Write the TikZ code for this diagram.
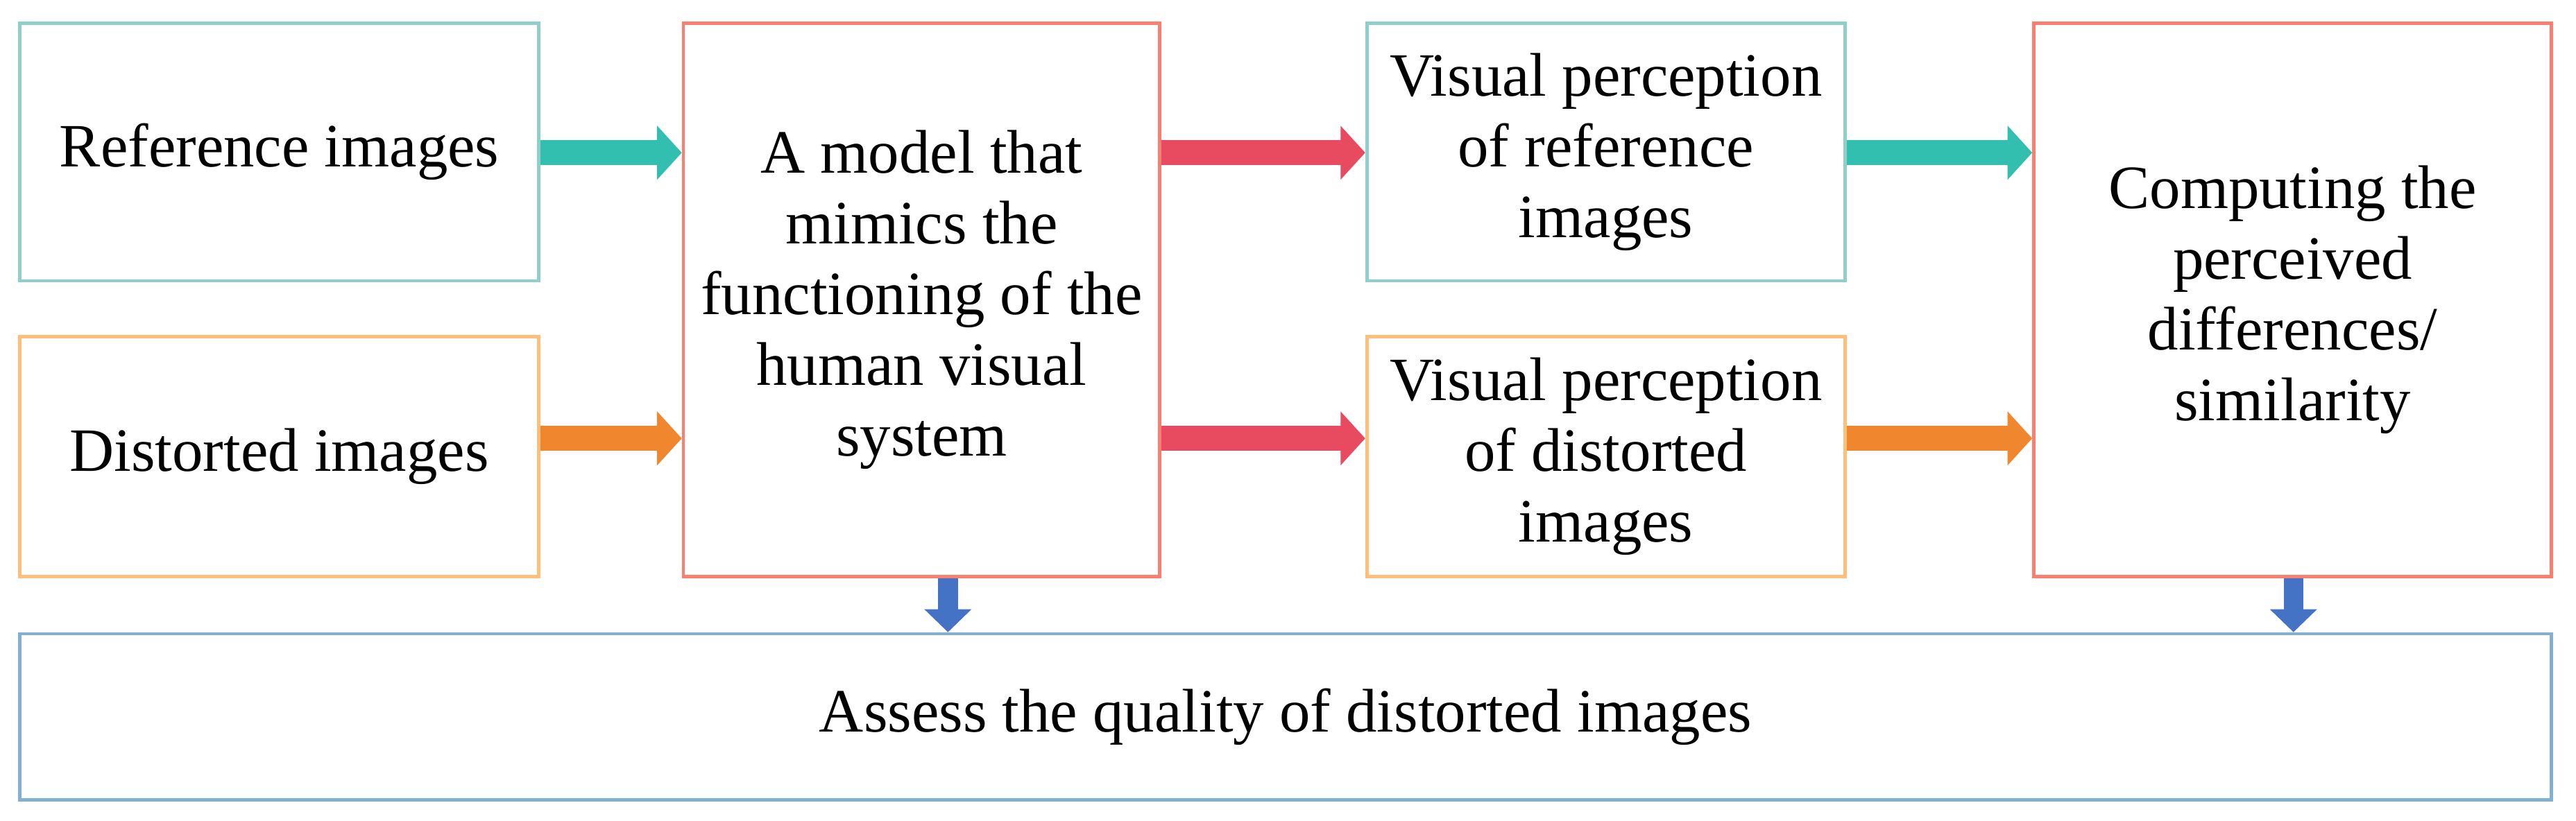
\documentclass[tikz,border=0pt]{standalone}
\usepackage{fontspec}
\setmainfont{Liberation Serif}
\usetikzlibrary{arrows.meta}
\definecolor{tealbox}{HTML}{8ECFC9}
\definecolor{orangebox}{HTML}{FFBE7A}
\definecolor{redbox}{HTML}{FA7F6F}
\definecolor{bluebox}{HTML}{82B0D2}
\definecolor{tealarr}{HTML}{33BFB0}
\definecolor{orangearr}{HTML}{F0862E}
\definecolor{redarr}{HTML}{E84A5F}
\definecolor{bluearr}{HTML}{4472C4}
\begin{document}
\begin{tikzpicture}[x=1pt,y=-1pt,
  box/.style={draw,line width=2pt,inner sep=0pt,align=center,font=\fontsize{37.5}{43}\selectfont},
  arr/.style={line width=15pt,-{Triangle[length=15pt,width=32pt]}},
  darr/.style={line width=12pt,-{Triangle[length=14pt,width=28pt]}}]
\useasboundingbox (0,0) rectangle (1568,500);
\node[box,tealbox,text=black,minimum width=316pt,minimum height=157pt] (ref) at (170,92.5) {Reference images};
\node[box,orangebox,text=black,minimum width=316pt,minimum height=146pt] (dist) at (170,278) {Distorted images};
\node[box,redbox,text=black,minimum width=290pt,minimum height=337pt] (model) at (561,182.5) {A model that\\mimics the\\functioning of the\\human visual\\system};
\node[box,tealbox,text=black,minimum width=291pt,minimum height=157pt] (vref) at (977.5,92.5) {Visual perception\\of reference\\images};
\node[box,orangebox,text=black,minimum width=291pt,minimum height=146pt] (vdist) at (977.5,278) {Visual perception\\of distorted\\images};
\node[box,redbox,text=black,minimum width=315pt,minimum height=337pt] (comp) at (1395.5,182.5) {Computing the\\perceived\\differences/\\similarity};
\node[box,bluebox,text=black,minimum width=1541pt,minimum height=101pt] (assess) at (782.5,436.5) {Assess the quality of distorted images};
\draw[arr,tealarr] (ref.east |- 0,93) -- (model.west |- 0,93);
\draw[arr,orangearr] (dist.east |- 0,267) -- (model.west |- 0,267);
\draw[arr,redarr] (model.east |- 0,93) -- (vref.west |- 0,93);
\draw[arr,redarr] (model.east |- 0,267) -- (vdist.west |- 0,267);
\draw[arr,tealarr] (vref.east |- 0,93) -- (comp.west |- 0,93);
\draw[arr,orangearr] (vdist.east |- 0,267) -- (comp.west |- 0,267);
\draw[darr,bluearr] (model.south -| 577,0) -- (assess.north -| 577,0);
\draw[darr,bluearr] (comp.south -| 1396,0) -- (assess.north -| 1396,0);
\end{tikzpicture}
\end{document}
